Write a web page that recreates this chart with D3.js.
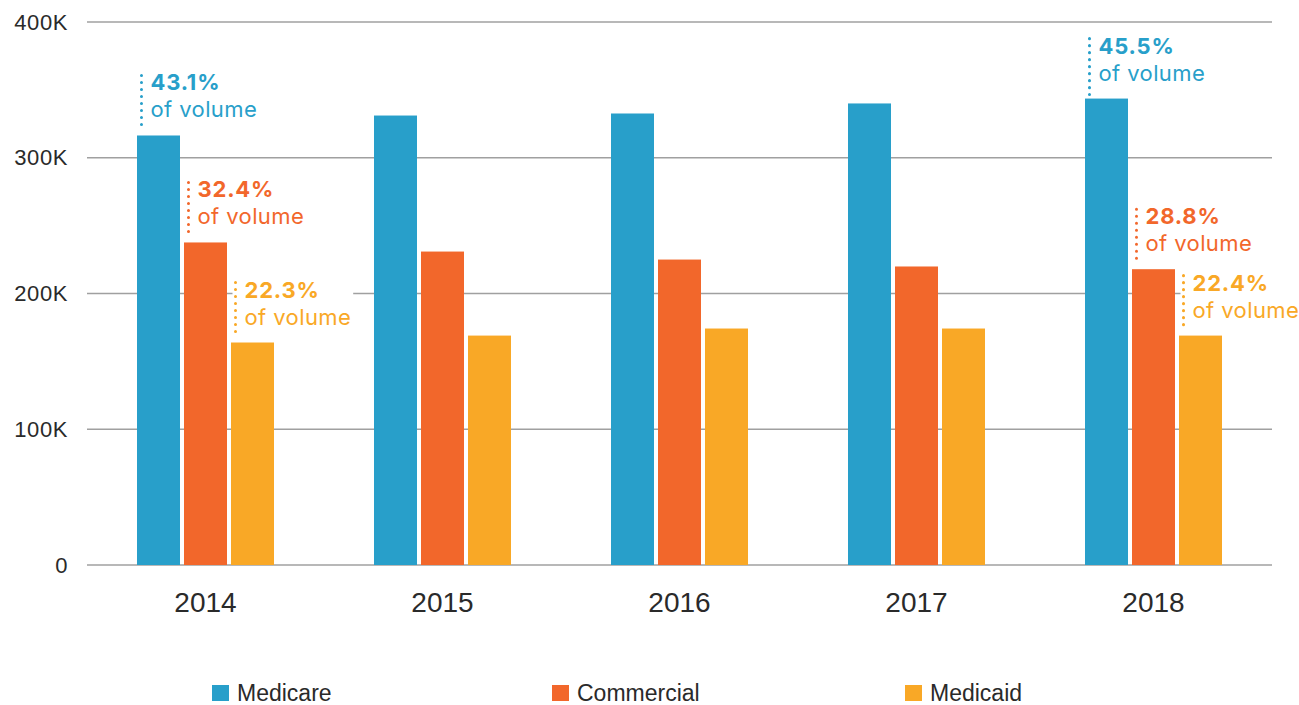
<!DOCTYPE html>
<html>
<head>
<meta charset="utf-8">
<script src="https://cdn.jsdelivr.net/npm/d3@7"></script>
<style>
  body { margin: 0; background: #fff; }
  svg { display: block; }
</style>
</head>
<body>
<div id="chart"></div>
<script>
// data
const years = ["2014", "2015", "2016", "2017", "2018"];
const seriesNames = ["Medicare", "Commercial", "Medicaid"];
const medicare = [316400, 331100, 332600, 340000, 343600];
const commercial = [237600, 230900, 225000, 219900, 217900];
const medicaid = [163900, 169000, 174200, 174200, 169000];
const yTicks = [0, 100000, 200000, 300000, 400000];
const yTickLabels = ["0", "100K", "200K", "300K", "400K"];
const notes = [
    { year: "2014", series: "Medicare", pct: "43.1%" },
    { year: "2014", series: "Commercial", pct: "32.4%" },
    { year: "2014", series: "Medicaid", pct: "22.3%" },
    { year: "2018", series: "Medicare", pct: "45.5%" },
    { year: "2018", series: "Commercial", pct: "28.8%" },
    { year: "2018", series: "Medicaid", pct: "22.4%" }
];

const colors = { Medicare: "#289fca", Commercial: "#f2672b", Medicaid: "#f9a826" };
const values = { Medicare: medicare, Commercial: commercial, Medicaid: medicaid };

const W = 1299, H = 705;
const svg = d3.select("#chart").append("svg")
    .attr("width", W)
    .attr("height", H);

const x = d3.scaleBand()
    .domain(years)
    .range([87, 1272])
    .paddingInner(0.4219)
    .paddingOuter(0.21095);

const xs = d3.scaleBand()
    .domain(seriesNames)
    .range([0, x.bandwidth()])
    .paddingInner(0.0851)
    .paddingOuter(0);

const y = d3.scaleLinear()
    .domain([0, 400000])
    .range([565, 22]);

// grid lines
svg.append("g")
    .selectAll("line")
    .data(yTicks)
    .join("line")
    .attr("x1", 87)
    .attr("x2", 1272)
    .attr("y1", d => y(d))
    .attr("y2", d => y(d))
    .attr("stroke", "#a0a0a0")
    .attr("stroke-width", 1.5);

// y labels
svg.append("g")
    .selectAll("text")
    .data(yTicks)
    .join("text")
    .attr("x", 68)
    .attr("y", d => y(d) + 7.5)
    .attr("text-anchor", "end")
    .attr("font-family", "Liberation Sans, Arial, sans-serif")
    .attr("font-size", "22px")
    .attr("letter-spacing", "0.6px")
    .attr("fill", "#2a2a2a")
    .text((d, i) => yTickLabels[i]);

// bars
const rows = [];
years.forEach((yr, i) => {
    seriesNames.forEach(s => rows.push({ year: yr, series: s, value: values[s][i] }));
});

svg.append("g")
    .selectAll("rect")
    .data(rows)
    .join("rect")
    .attr("x", d => x(d.year) + xs(d.series))
    .attr("y", d => y(d.value))
    .attr("width", xs.bandwidth())
    .attr("height", d => y(0) - y(d.value))
    .attr("fill", d => colors[d.series]);

// x labels
svg.append("g")
    .selectAll("text")
    .data(years)
    .join("text")
    .attr("x", d => x(d) + x.bandwidth() / 2)
    .attr("y", 612)
    .attr("text-anchor", "middle")
    .attr("font-family", "Liberation Sans, Arial, sans-serif")
    .attr("font-size", "28px")
    .attr("fill", "#2a2a2a")
    .text(d => d);

// annotations
notes.forEach(n => {
    const i = years.indexOf(n.year);
    const top = y(values[n.series][i]);
    const lx = x(n.year) + xs(n.series) + 4.5;
    const g = svg.append("g");
    const bg = g.append("rect").attr("fill", "#fff");
    g.append("line")
        .attr("x1", lx).attr("x2", lx)
        .attr("y1", top - 60).attr("y2", top - 4)
        .attr("stroke", colors[n.series])
        .attr("stroke-width", 3)
        .attr("stroke-linecap", "round")
        .attr("stroke-dasharray", "0.1 6.9");
    const t1 = g.append("text")
        .attr("x", lx + 9)
        .attr("y", top - 45)
        .attr("font-family", "Inter, sans-serif")
        .attr("font-size", "22px")
        .attr("letter-spacing", "0.8px")
        .attr("font-weight", "bold")
        .attr("fill", colors[n.series])
        .text(n.pct);
    const t2 = g.append("text")
        .attr("x", lx + 9)
        .attr("y", top - 18)
        .attr("font-family", "Inter, sans-serif")
        .attr("font-size", "22px")
        .attr("letter-spacing", "0.4px")
        .attr("fill", colors[n.series])
        .text("of volume");
    const w = Math.max(t1.node().getComputedTextLength(), t2.node().getComputedTextLength());
    bg.attr("x", lx - 3).attr("y", top - 62)
        .attr("width", w + 14).attr("height", 58);
});

// legend
const legendX = [212, 552, 905];
const legend = svg.append("g")
    .selectAll("g")
    .data(seriesNames)
    .join("g")
    .attr("transform", (d, i) => `translate(${legendX[i]},685)`);

legend.append("rect")
    .attr("width", 17)
    .attr("height", 16)
    .attr("fill", d => colors[d]);

legend.append("text")
    .attr("x", 25)
    .attr("y", 16)
    .attr("font-family", "Liberation Sans, Arial, sans-serif")
    .attr("font-size", "23px")
    .attr("fill", "#2a2a2a")
    .text(d => d);
</script>
</body>
</html>
